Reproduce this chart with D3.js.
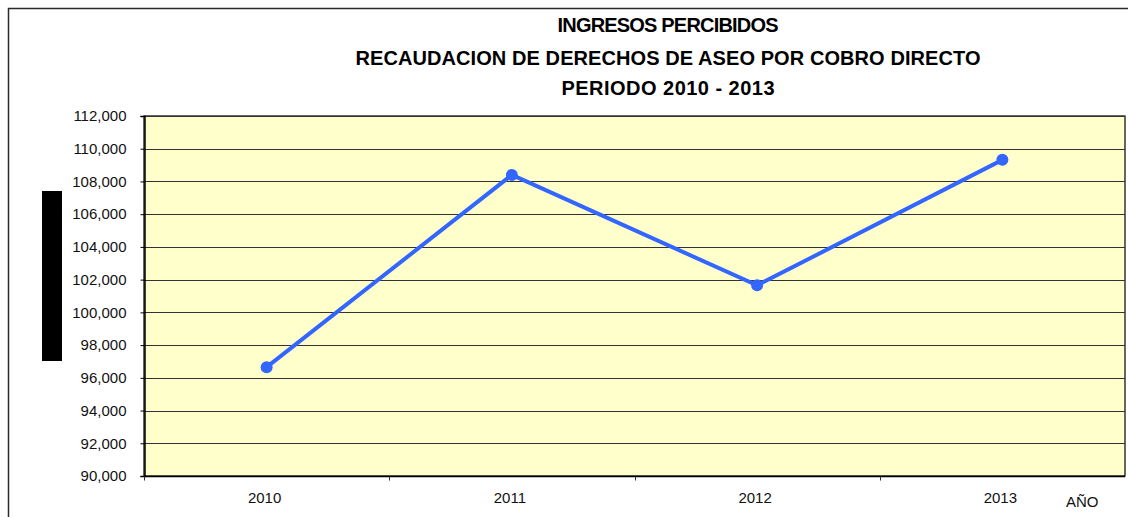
<!DOCTYPE html>
<html>
<head>
<meta charset="utf-8">
<script src="https://cdn.jsdelivr.net/npm/d3@7"></script>
<style>
    body { margin: 0; background: white; }
    svg text { font-family: Arial, "Liberation Sans", sans-serif; fill: #000; }
    .title_text { font-weight: bold; font-size: 20px; }
    .tick_text { font-size: 15px; }
</style>
</head>
<body>
<svg id="chart" width="1128" height="517"></svg>
<script>

// data
const years = ['2010', '2011', '2012', '2013'];
const ingresos = [96650, 108400, 101650, 109320];
const y_ticks = [90000, 92000, 94000, 96000, 98000, 100000, 102000, 104000, 106000, 108000, 110000, 112000];
const title_lines = ['INGRESOS PERCIBIDOS', 'RECAUDACION DE DERECHOS DE ASEO POR COBRO DIRECTO', 'PERIODO 2010 - 2013'];
const x_title = 'AÑO';

class LineChartView {

    constructor(svg) {
        this.svg = svg.append('g');

        // plot area
        this.x = 144;
        this.y = 116;
        this.width = 981;
        this.height = 360;
    }

    init() {
        this.svg.html('');

        this.x_axis = d3.scaleBand().domain(years).range([this.x, this.x + this.width]);
        this.y_axis = d3.scaleLinear().domain([90000, 112000]).range([this.y + this.height, this.y]);
    }

    draw() {
        this.init();

        //outer frame (only top and left are visible)
        this.svg.append('path')
            .attr('d', 'M8.5,517 L8.5,8.5 L1128,8.5')
            .attr('fill', 'none')
            .attr('stroke', '#2a2a2a')
            .attr('stroke-width', 1.5);

        //black box where the y title should be
        this.svg.append('rect')
            .attr('x', 42)
            .attr('y', 191)
            .attr('width', 20)
            .attr('height', 170)
            .attr('fill', '#000');

        this.draw_title();
        this.draw_plot_area();
        this.draw_axes();
        this.draw_line();
    }

    draw_title() {
        let lengths = [221, 625, 213];
        let baselines = [32, 65, 95];
        this.svg.selectAll('.title_text')
            .data(title_lines)
            .enter()
            .append('text')
            .attr('class', 'title_text')
            .attr('x', 668)
            .attr('y', (d, i) => baselines[i])
            .attr('text-anchor', 'middle')
            .attr('textLength', (d, i) => lengths[i])
            .attr('lengthAdjust', 'spacing')
            .text((d) => d);
    }

    draw_plot_area() {
        this.svg.append('rect')
            .attr('x', this.x)
            .attr('y', this.y)
            .attr('width', this.width)
            .attr('height', this.height)
            .attr('fill', '#ffffcc')
            .attr('stroke', '#000')
            .attr('stroke-width', 1.2);

        //horizontal grid
        this.svg.append('g')
            .selectAll('.grid_line')
            .data(y_ticks)
            .enter()
            .append('line')
            .attr('class', 'grid_line')
            .attr('x1', this.x)
            .attr('x2', this.x + this.width)
            .attr('y1', (d) => Math.round(this.y_axis(d)) + 0.5)
            .attr('y2', (d) => Math.round(this.y_axis(d)) + 0.5)
            .attr('stroke', '#333')
            .attr('stroke-width', 1.2);
    }

    draw_axes() {
        let left = this.svg.append('g')
            .attr('transform', 'translate(' + (this.x + 0.5) + ',0)')
            .call(d3.axisLeft(this.y_axis)
                .tickValues(y_ticks)
                .tickSize(4)
                .tickPadding(14)
                .tickFormat(d3.format(',')));
        left.select('.domain').attr('stroke', '#000').attr('stroke-width', 1.5);
        left.selectAll('.tick text').attr('class', 'tick_text').style('fill', '#111');

        //category boundaries for ticks
        let bounds = years.map((d) => this.x_axis(d));

        let bottom = this.svg.append('g')
            .attr('transform', 'translate(0,' + (this.y + this.height + 0.5) + ')');
        bottom.append('line')
            .attr('x1', this.x)
            .attr('x2', this.x + this.width)
            .attr('stroke', '#000')
            .attr('stroke-width', 1.5);
        bottom.selectAll('.x_tick')
            .data(bounds)
            .enter()
            .append('line')
            .attr('class', 'x_tick')
            .attr('x1', (d) => Math.round(d) + 0.5)
            .attr('x2', (d) => Math.round(d) + 0.5)
            .attr('y1', 0)
            .attr('y2', 4)
            .attr('stroke', '#333');

        this.svg.selectAll('.x_label')
            .data(years)
            .enter()
            .append('text')
            .attr('class', 'tick_text')
            .attr('x', (d) => this.x_axis(d) + this.x_axis.bandwidth() / 2 - 2)
            .attr('y', 503)
            .attr('text-anchor', 'middle')
            .style('fill', '#111')
            .text((d) => d);

        this.svg.append('text')
            .attr('class', 'tick_text')
            .attr('x', 1066)
            .attr('y', 507)
            .style('fill', '#111')
            .text(x_title);
    }

    draw_line() {
        let data = years.map((d, i) => [d, ingresos[i]]);
        let cx = (d) => this.x_axis(d[0]) + this.x_axis.bandwidth() / 2;

        this.svg.append('path')
            .datum(data)
            .attr('fill', 'none')
            .attr('stroke', '#3366ff')
            .attr('stroke-width', 4)
            .attr('d', d3.line().x(cx).y((d) => this.y_axis(d[1])));

        this.svg.append('g')
            .selectAll('.line_point')
            .data(data)
            .enter()
            .append('circle')
            .attr('class', 'line_point')
            .attr('cx', cx)
            .attr('cy', (d) => this.y_axis(d[1]))
            .attr('r', 6)
            .style('fill', '#3366ff');
    }
}

let chart = new LineChartView(d3.select('#chart'));
chart.draw();

</script>
</body>
</html>
